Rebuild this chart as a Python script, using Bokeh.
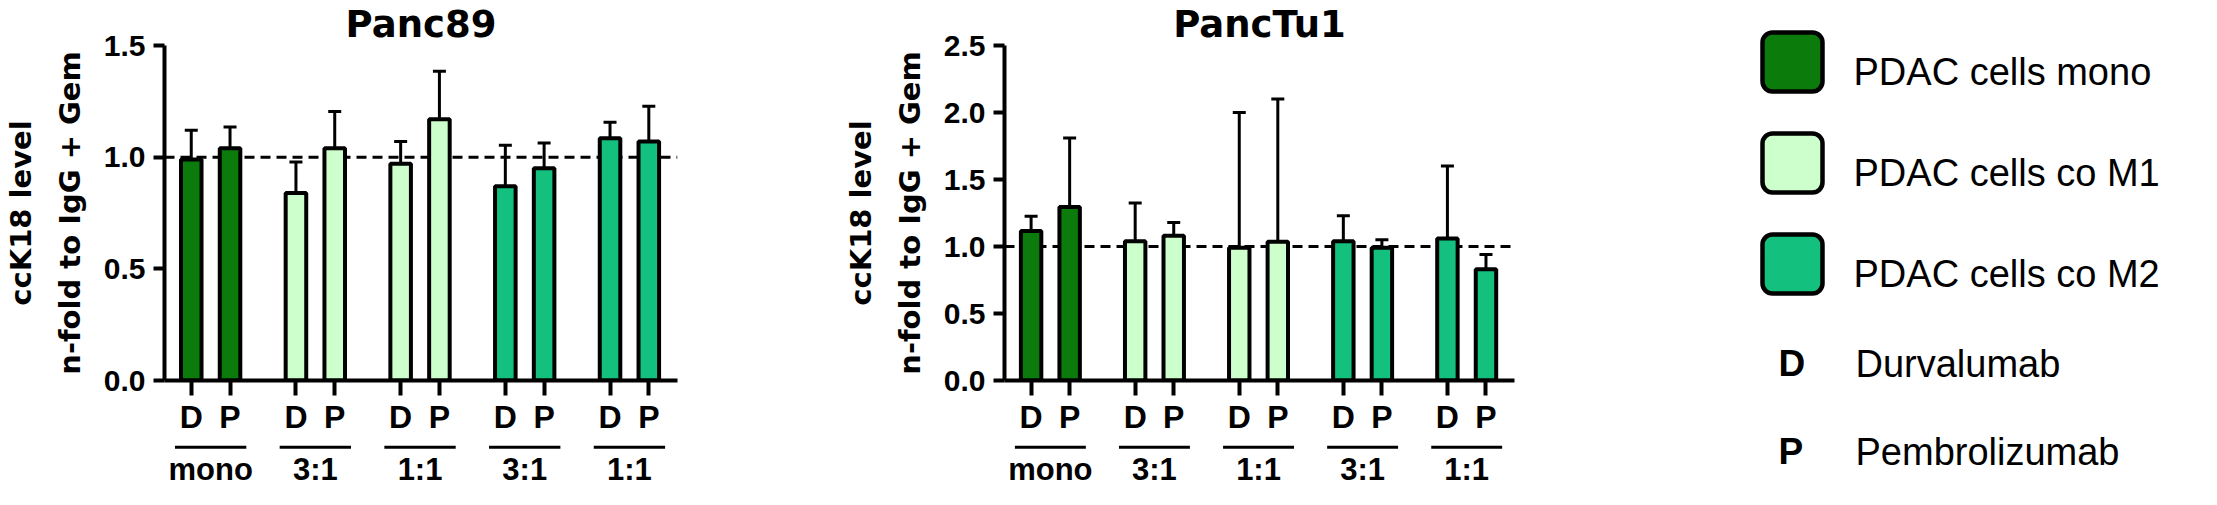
from bokeh.plotting import figure
from bokeh.models import (Range1d, FixedTicker, Span, Whisker, TeeHead, ColumnDataSource,
                          Title, NumeralTickFormatter, Quad, LinearAxis)
from bokeh.layouts import row, column
from bokeh.embed import file_html
from bokeh.resources import INLINE
from bokeh.core.properties import value

# ---------------- data ----------------
group_labels = ["mono", "3:1", "1:1", "3:1", "1:1"]
group_cell = [0, 1, 1, 2, 2]          # index into cell_labels
treatments = ["D", "P"]
treat_names = ["Durvalumab", "Pembrolizumab"]
cell_labels = ["PDAC cells mono", "PDAC cells co M1", "PDAC cells co M2"]
cell_colors = ["#0b7c0b", "#ccffcc", "#13c07d"]
y_label_lines = ["ccK18 level", "n-fold to IgG + Gem"]

panc89_mean = [0.99, 1.04, 0.84, 1.04, 0.97, 1.17, 0.87, 0.95, 1.085, 1.07]
panc89_upper = [1.12, 1.135, 0.978, 1.205, 1.07, 1.385, 1.053, 1.063, 1.156, 1.228]
panc89_lower = [0.99, 1.04, 0.84, 1.04, 0.97, 1.17, 0.87, 0.95, 1.085, 1.07]

panctu1_mean = [1.115, 1.295, 1.04, 1.08, 0.99, 1.035, 1.04, 0.99, 1.06, 0.83]
panctu1_upper = [1.225, 1.81, 1.325, 1.18, 2.0, 2.1, 1.23, 1.05, 1.6, 0.94]
panctu1_lower = [1.064, 1.08, 0.73, 0.92, 0.82, 0.82, 1.04, 0.99, 0.80, 0.72]

panc89_ticks = [0.0, 0.5, 1.0, 1.5]
panctu1_ticks = [0.0, 0.5, 1.0, 1.5, 2.0, 2.5]

# ---------------- style ----------------
FONT = "Liberation Sans"
WIDE = "DejaVu Sans"
PAIR_STEP = 10
GROUP_STEP = 27
BAR_W = 5.3
XR = (-6.9, 125.4)
LW = 4
PANEL_H = 440
STRIP_H = 49


def bar_positions():
    xs, labels, colors = [], [], []
    for g, c in enumerate(group_cell):
        for t, tr in enumerate(treatments):
            xs.append(g * GROUP_STEP + t * PAIR_STEP)
            labels.append(tr)
            colors.append(cell_colors[c])
    return xs, labels, colors


def make_panel(title, mean, upper, lower, ymax, yticks, width, mbl, mbr):
    xs, labels, colors = bar_positions()
    xr = Range1d(*XR)
    p = figure(width=width, height=PANEL_H, x_range=xr, y_range=Range1d(0, ymax),
               output_backend="svg", toolbar_location=None,
               min_border_left=mbl, min_border_right=mbr, min_border_top=44,
               min_border_bottom=60, outline_line_color=None,
               background_fill_color="white", border_fill_color="white")
    p.title = Title(text=title, align="center", text_font=WIDE, text_font_style="bold",
                    text_font_size="37px", standoff=0, text_color="black")
    p.grid.visible = False

    # reference line at 1
    p.add_layout(Span(location=1, dimension="width", line_dash="10 6", line_width=3,
                      line_color="black", level="underlay"))

    src = ColumnDataSource(dict(x=xs, mean=mean, upper=upper, lower=lower, color=colors))
    p.vbar(x="x", top="mean", bottom=0, width=BAR_W, source=src, fill_color="color",
           line_color="black", line_width=LW)

    p.add_layout(Whisker(source=src, base="x", lower="mean", upper="upper",
                         dimension="height", line_width=3, line_color="black",
                         upper_head=TeeHead(size=13, line_width=3, line_color="black"),
                         lower_head=None))
    lo_idx = [i for i in range(len(xs)) if lower[i] < mean[i]]
    if lo_idx:
        src2 = ColumnDataSource(dict(x=[xs[i] for i in lo_idx], mean=[mean[i] for i in lo_idx],
                                     lower=[lower[i] for i in lo_idx]))
        p.add_layout(Whisker(source=src2, base="x", lower="lower", upper="mean",
                             dimension="height", line_width=3, line_color="black",
                             lower_head=TeeHead(size=13, line_width=3, line_color="black"),
                             upper_head=None))

    # x axis
    xa = p.xaxis[0]
    xa.ticker = FixedTicker(ticks=xs)
    xa.major_label_overrides = {x: l for x, l in zip(xs, labels)}
    xa.axis_line_width = LW
    xa.major_tick_line_width = LW
    xa.major_tick_in = 0
    xa.major_tick_out = 15
    xa.minor_tick_line_color = None
    xa.major_label_standoff = 3
    xa.major_label_text_font = FONT
    xa.major_label_text_font_style = "bold"
    xa.major_label_text_font_size = "32px"
    xa.major_label_text_color = "black"

    ya = p.yaxis[0]
    ya.ticker = FixedTicker(ticks=yticks)
    ya.formatter = NumeralTickFormatter(format="0.0")
    ya.axis_line_width = LW
    ya.major_tick_line_width = LW
    ya.major_tick_in = 0
    ya.major_tick_out = 11
    ya.minor_tick_line_color = None
    ya.major_label_standoff = 8
    ya.major_label_text_font = FONT
    ya.major_label_text_font_style = "bold"
    ya.major_label_text_font_size = "30px"
    ya.major_label_text_color = "black"
    ya.axis_label = y_label_lines[1]
    ya.axis_label_standoff = 14

    # outer line of the y label, carried by a bare axis
    ya2 = LinearAxis(ticker=FixedTicker(ticks=[]), axis_line_color=None,
                     major_tick_line_color=None, minor_tick_line_color=None,
                     major_tick_out=0, major_tick_in=0, minor_tick_out=0,
                     major_label_text_font_size="1px", major_label_standoff=0,
                     axis_label=y_label_lines[0], axis_label_standoff=12)
    p.add_layout(ya2, "left")
    for ax in (ya, ya2):
        ax.axis_label_text_font = WIDE
        ax.axis_label_text_font_style = "bold"
        ax.axis_label_text_font_size = "29px"
        ax.axis_label_text_color = "black"

    # strip below: group underlines (glyphs) and group names (axis labels)
    s = figure(width=width, height=STRIP_H, x_range=xr, y_range=Range1d(12, 0),
               output_backend="svg", toolbar_location=None,
               min_border_left=mbl, min_border_right=mbr, min_border_top=0,
               min_border_bottom=STRIP_H - 12, outline_line_color=None,
               y_axis_location=None,
               background_fill_color="white", border_fill_color="white")
    s.grid.visible = False
    centers = [g * GROUP_STEP + PAIR_STEP / 2 for g in range(len(group_labels))]
    s.segment(x0=[c - 9.2 for c in centers], x1=[c + 9.2 for c in centers],
              y0=[9] * len(centers), y1=[9] * len(centers), line_width=3, line_color="black")
    ga = s.xaxis[0]
    ga.ticker = FixedTicker(ticks=centers)
    ga.major_label_overrides = {c: l for c, l in zip(centers, group_labels)}
    ga.axis_line_color = None
    ga.major_tick_line_color = None
    ga.minor_tick_line_color = None
    ga.major_tick_out = 0
    ga.major_tick_in = 0
    ga.major_label_standoff = 2
    ga.major_label_text_font = FONT
    ga.major_label_text_font_style = "bold"
    ga.major_label_text_font_size = "31px"
    ga.major_label_text_color = "black"
    return column(p, s, spacing=0)


left = make_panel("Panc89", panc89_mean, panc89_upper, panc89_lower, 1.5, panc89_ticks,
                  840, 158, 163)
mid = make_panel("PancTu1", panctu1_mean, panctu1_upper, panctu1_lower, 2.5, panctu1_ticks,
                 682, 158, 8)

# ---------------- legend ----------------
LEG_W, LEG_H = 679, PANEL_H + STRIP_H
lg = figure(width=LEG_W, height=LEG_H, x_range=Range1d(0, LEG_W), y_range=Range1d(LEG_H, 0),
            output_backend="svg", toolbar_location=None, min_border=0,
            outline_line_color=None, x_axis_location=None, y_axis_location=None,
            background_fill_color="white", border_fill_color="white")
lg.grid.visible = False
tops = [32 + 101 * i for i in range(len(cell_labels))]
qkw = {}
if "border_radius" in Quad.properties():
    qkw["border_radius"] = 10
lg.quad(left=[240] * 3, right=[300] * 3, top=tops, bottom=[t + 59 for t in tops],
        fill_color=cell_colors, line_color="black", line_width=4.5, **qkw)
lg.text(x=[331] * 3, y=[t + 39 for t in tops], text=cell_labels, text_font=value(FONT),
        text_font_size="38px", text_baseline="middle", text_color="black")
tb = [363, 451]
lg.text(x=[256] * 2, y=tb, text=treatments, text_font=value(FONT), text_font_style="bold",
        text_font_size="37px", text_baseline="middle", text_color="black")
lg.text(x=[333] * 2, y=tb, text=treat_names, text_font=value(FONT),
        text_font_size="38px", text_baseline="middle", text_color="black")

page = row(left, mid, lg, spacing=0)
open("out.html", "w").write(file_html(page, INLINE))
